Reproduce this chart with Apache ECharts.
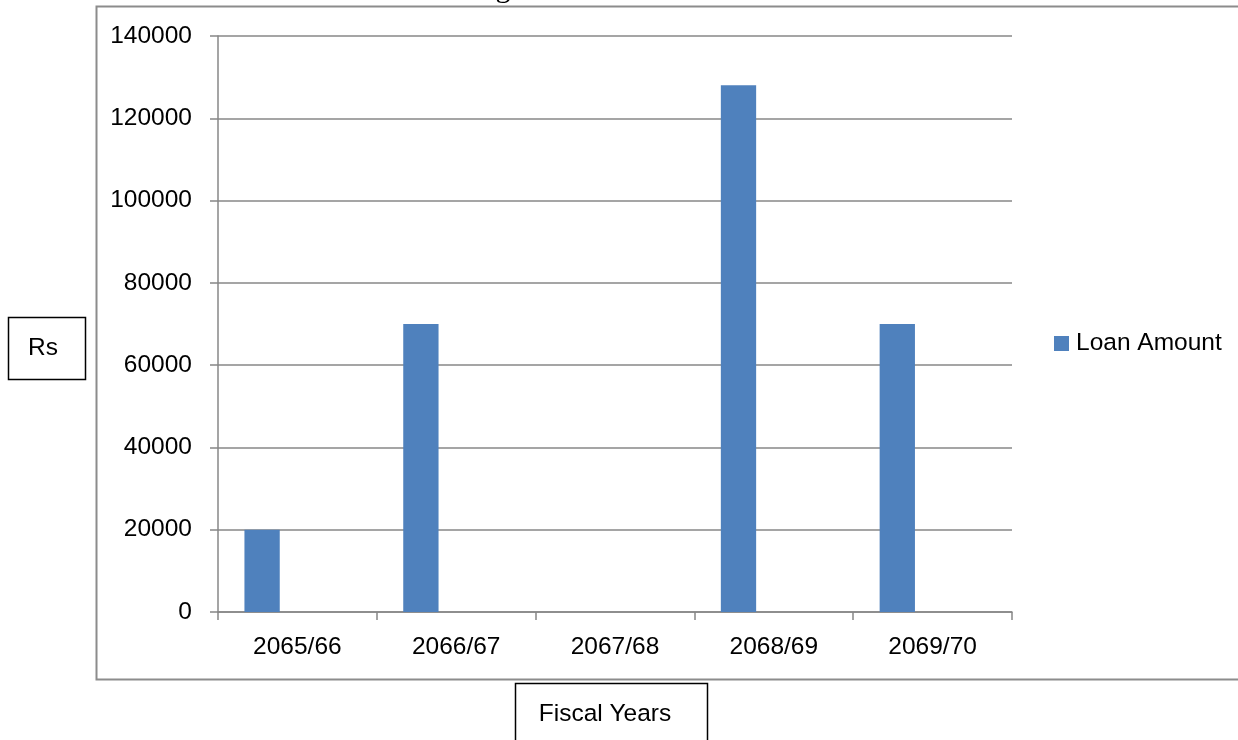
<!DOCTYPE html>
<html>
<head>
<meta charset="utf-8">
<script src="https://cdn.jsdelivr.net/npm/echarts@6/dist/echarts.min.js"></script>
<style>
  html, body { margin: 0; padding: 0; background: #fff; }
  #chart { width: 1238px; height: 740px; }
</style>
</head>
<body>
<div id="chart"></div>
<script>
// Fiscal years on the category axis
const fiscalYears = ['2065/66', '2066/67', '2067/68', '2068/69', '2069/70'];
// Loan amount disbursed (Rs) per fiscal year
const loanAmount = [20000, 70000, 0, 128000, 70000];
// Two empty companion series keep the three-slot bar layout of the group
const emptySlot = ['-', '-', '-', '-', '-'];
// Value axis ticks
const yMin = 0, yMax = 140000, yStep = 20000;

const FONT = 'Liberation Sans';
const FS = 24.5;
const GRAY = '#878787';

const chart = echarts.init(document.getElementById('chart'), null, { renderer: 'canvas' });

chart.setOption({
  animation: false,
  backgroundColor: '#ffffff',
  grid: { left: 218, top: 36, right: 226, bottom: 128, containLabel: false },
  legend: {
    data: ['Loan Amount'],
    left: 1054,
    top: 331,
    padding: 0,
    icon: 'rect',
    itemWidth: 15,
    itemHeight: 15,
    textStyle: { fontFamily: FONT, fontSize: FS, color: '#000', padding: [0, 0, 0, 2] }
  },
  xAxis: {
    type: 'category',
    data: fiscalYears,
    boundaryGap: true,
    axisLine: { show: true, lineStyle: { color: GRAY, width: 1.5 } },
    axisTick: { show: true, length: 8, alignWithLabel: false, lineStyle: { color: GRAY, width: 1.5 } },
    axisLabel: { margin: 23, fontFamily: FONT, fontSize: FS, color: '#000' },
    splitLine: { show: false }
  },
  yAxis: {
    type: 'value',
    min: yMin,
    max: yMax,
    interval: yStep,
    axisLine: { show: true, lineStyle: { color: GRAY, width: 1.5 } },
    axisTick: { show: true, length: 8, lineStyle: { color: GRAY, width: 1.5 } },
    axisLabel: { margin: 26, fontFamily: FONT, fontSize: FS, color: '#000', formatter: v => String(v) },
    splitLine: { show: true, lineStyle: { color: GRAY, width: 1.5 } }
  },
  series: [
    {
      name: 'Loan Amount',
      type: 'bar',
      data: loanAmount,
      barGap: '0%',
      barCategoryGap: '33.3%',
      itemStyle: { color: '#4f81bd' },
      z: 3
    },
    { name: 'slot2', type: 'bar', data: emptySlot, barGap: '0%', barCategoryGap: '33.3%', itemStyle: { color: '#c0504d' } },
    { name: 'slot3', type: 'bar', data: emptySlot, barGap: '0%', barCategoryGap: '33.3%', itemStyle: { color: '#9bbb59' } }
  ],
  graphic: [
    // outer chart frame (right edge runs past the page)
    {
      type: 'rect',
      shape: { x: 96.5, y: 6.5, width: 1160, height: 673 },
      style: { fill: 'none', stroke: '#8c8c8c', lineWidth: 2 },
      silent: true, z: -1
    },
    // caption descender peeking above the frame
    {
      type: 'text',
      style: { x: 503, y: 4, text: 'g', font: '30px "Liberation Serif"', fill: '#000', textAlign: 'center', textVerticalAlign: 'bottom' },
      silent: true
    },
    // "Rs" text box
    {
      type: 'rect',
      shape: { x: 8.5, y: 317.5, width: 77, height: 62 },
      style: { fill: '#fff', stroke: '#000', lineWidth: 1.5 },
      silent: true
    },
    {
      type: 'text',
      style: { x: 43, y: 348, text: 'Rs', font: FS + 'px "Liberation Sans"', fill: '#000', textAlign: 'center', textVerticalAlign: 'middle' },
      silent: true
    },
    // "Fiscal Years" text box
    {
      type: 'rect',
      shape: { x: 515.5, y: 683.5, width: 192, height: 60 },
      style: { fill: '#fff', stroke: '#000', lineWidth: 1.5 },
      silent: true
    },
    {
      type: 'text',
      style: { x: 605, y: 714, text: 'Fiscal Years', font: FS + 'px "Liberation Sans"', fill: '#000', textAlign: 'center', textVerticalAlign: 'middle' },
      silent: true
    }
  ]
});
</script>
</body>
</html>
